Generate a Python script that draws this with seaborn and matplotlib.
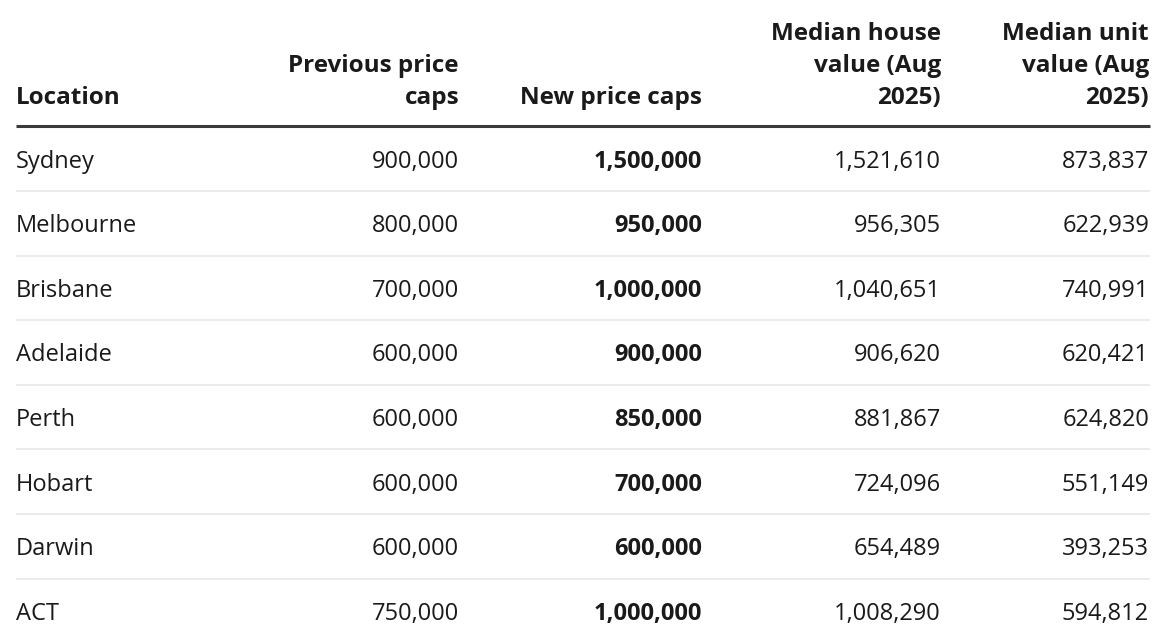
import matplotlib
matplotlib.use("Agg")
import matplotlib.pyplot as plt
import seaborn as sns
import pandas as pd

locations = ["Sydney", "Melbourne", "Brisbane", "Adelaide", "Perth", "Hobart", "Darwin", "ACT"]
previous_caps = [900000, 800000, 700000, 600000, 600000, 600000, 600000, 750000]
new_caps = [1500000, 950000, 1000000, 900000, 850000, 700000, 600000, 1000000]
median_house = [1521610, 956305, 1040651, 906620, 881867, 724096, 654489, 1008290]
median_unit = [873837, 622939, 740991, 620421, 624820, 551149, 393253, 594812]
headers = ["Location", "Previous price\ncaps", "New price caps",
           "Median house\nvalue (Aug\n2025)", "Median unit\nvalue (Aug\n2025)"]

df = pd.DataFrame({
    headers[0]: locations,
    headers[1]: previous_caps,
    headers[2]: new_caps,
    headers[3]: median_house,
    headers[4]: median_unit,
})

sns.set_theme(style="white")
plt.rcParams["font.family"] = ["Open Sans", "DejaVu Sans"]

W, H = 1174, 644
fig = plt.figure(figsize=(W / 100, H / 100), dpi=100)
ax = fig.add_axes([0, 0, 1, 1])
ax.set_xlim(0, W)
ax.set_ylim(H, 0)
ax.axis("off")

left = 16
right = 1150
col_x = [16, 459, 702, 941, 1149]
col_ha = ["left", "right", "right", "right", "right"]
header_base = 104
line_gap = 32
row_base0 = 167.5
row_step = 64.6
fs_body = 17
fs_head = 17.5
txt = "#1a1a1a"

# headers (bottom aligned)
for j, h in enumerate(headers):
    lines = h.split("\n")
    n = len(lines)
    for k, ln in enumerate(lines):
        y = header_base - (n - 1 - k) * line_gap
        ax.text(col_x[j], y, ln, ha=col_ha[j], va="baseline", fontsize=fs_head,
                fontweight="bold", color=txt)

# thick rule
ax.hlines(125.5, left, right, color="#3a3a3a", lw=2.2)

# rows
for i in range(len(df)):
    y = row_base0 + i * row_step
    row = df.iloc[i]
    for j, h in enumerate(headers):
        v = row[h]
        s = v if j == 0 else f"{v:,}"
        ax.text(col_x[j], y, s, ha=col_ha[j], va="baseline", fontsize=fs_body,
                fontweight="bold" if j == 2 else "normal", color=txt)
    if i < len(df) - 1:
        ax.hlines(y + 23.5, left, right, color="#e8e8e8", lw=1.2)

fig.savefig("out.png", dpi=100, facecolor="white")
